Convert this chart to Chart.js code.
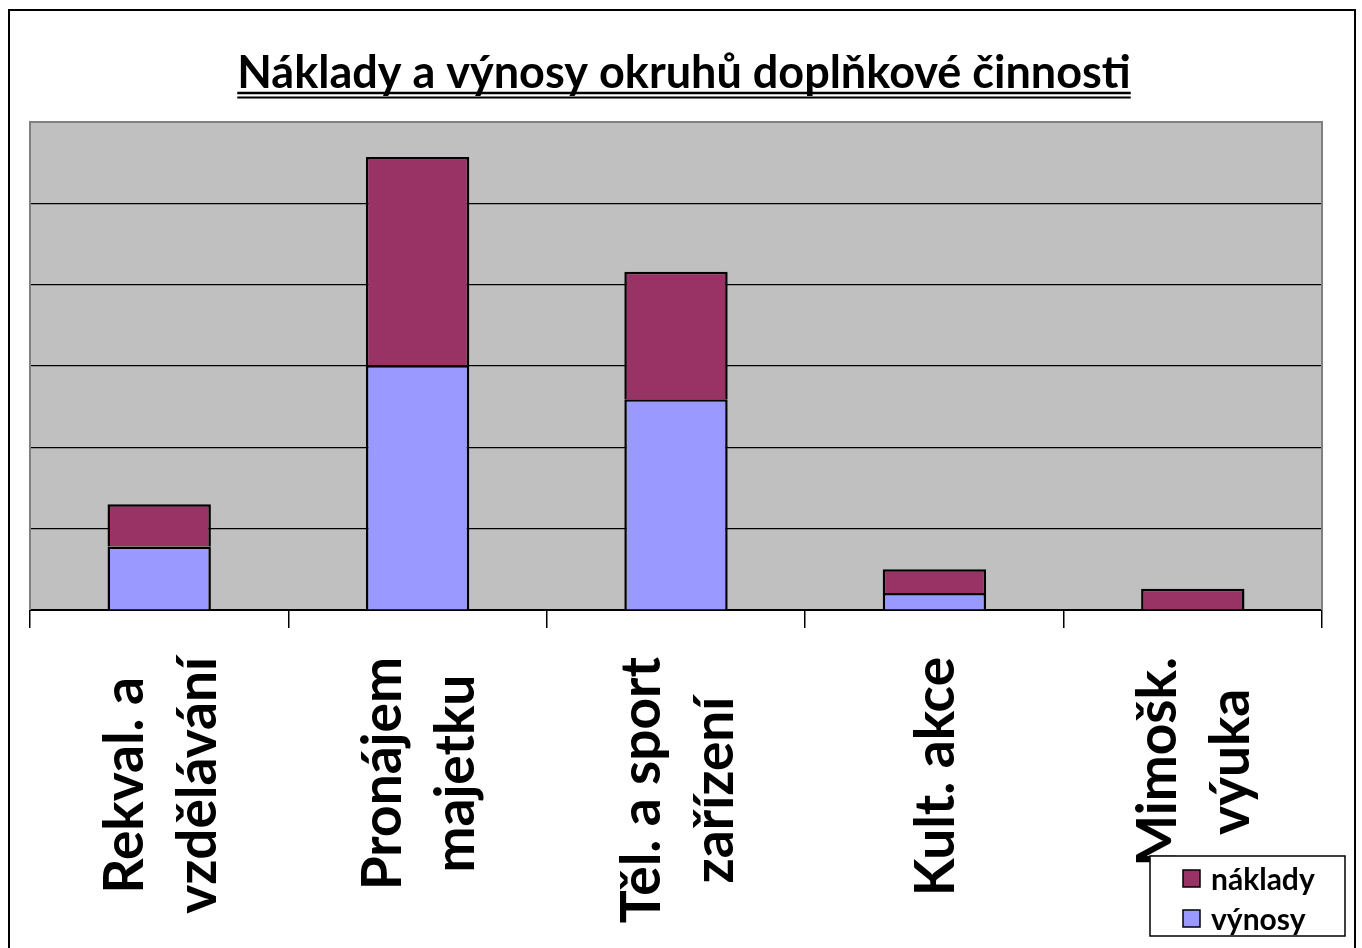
<!DOCTYPE html>
<html lang="cs">
<head>
<meta charset="UTF-8">
<title>Náklady a výnosy okruhů doplňkové činnosti</title>
<style>
body { margin:0; padding:0; background:#fff; }
#wrap { width:1362px; height:948px; position:relative; }
</style>
</head>
<body>
<div id="wrap"><canvas id="chart" width="1362" height="948"></canvas></div>
<script src="https://cdn.jsdelivr.net/npm/chart.js@4"></script>
<script>
const categories = [
  ['Rekval. a', 'vzdělávání'],
  ['Pronájem', 'majetku'],
  ['Těl. a sport', 'zařízení'],
  ['Kult. akce'],
  ['Mimošk.', 'výuka']
];
const vynosy  = [0.78, 3.01, 2.59, 0.21, 0];
const naklady = [0.52, 2.56, 1.57, 0.29, 0.26];
const yTicks = [0, 1, 2, 3, 4, 5, 6];

const titleText = 'Náklady a výnosy okruhů doplňkové činnosti';
const legendItems = [
  { label: 'náklady', color: '#993366' },
  { label: 'výnosy', color: '#9999FF' }
];

// gray plot background, title, rotated category labels, legend, outer frame
const decor = {
  id: 'decor',
  beforeDraw(chart) {
    const { ctx, chartArea: a } = chart;
    ctx.save();
    ctx.fillStyle = '#C0C0C0';
    ctx.fillRect(a.left, a.top, a.right - a.left, a.bottom - a.top);
    ctx.restore();
  },
  afterDraw(chart) {
    const { ctx, chartArea: a } = chart;
    const x = chart.scales.x;
    ctx.save();

    // plot border
    ctx.strokeStyle = '#808080';
    ctx.lineWidth = 2;
    ctx.beginPath();
    ctx.moveTo(a.left, a.bottom); ctx.lineTo(a.left, a.top);
    ctx.lineTo(a.right, a.top); ctx.lineTo(a.right, a.bottom);
    ctx.stroke();

    // title with double underline
    ctx.fillStyle = '#000';
    ctx.font = 'bold 45px Lato';
    ctx.textAlign = 'center';
    ctx.textBaseline = 'alphabetic';
    const tw = ctx.measureText(titleText).width;
    ctx.fillText(titleText, 684, 88);
    ctx.strokeStyle = '#000';
    ctx.lineWidth = 2.5;
    ctx.beginPath(); ctx.moveTo(684 - tw / 2, 93); ctx.lineTo(684 + tw / 2, 93); ctx.stroke();
    ctx.lineWidth = 2;
    ctx.beginPath(); ctx.moveTo(684 - tw / 2, 97.5); ctx.lineTo(684 + tw / 2, 97.5); ctx.stroke();

    // category labels, rotated, lines centred on each other
    const fs = 55, pitch = 73, top = 657;
    ctx.font = 'bold ' + fs + 'px Lato';
    categories.forEach((lines, i) => {
      const cx = x.getPixelForValue(i);
      const maxW = Math.max(...lines.map(l => ctx.measureText(l).width));
      const cy = top + maxW / 2;
      lines.forEach((l, j) => {
        const bx = cx + (j - (lines.length - 1) / 2) * pitch + 20;
        ctx.save();
        ctx.translate(bx, cy);
        ctx.rotate(-Math.PI / 2);
        ctx.textAlign = 'center';
        ctx.fillText(l, 0, 0);
        ctx.restore();
      });
    });

    // legend
    ctx.fillStyle = '#fff';
    ctx.fillRect(1150, 856, 195, 80);
    ctx.strokeStyle = '#000';
    ctx.lineWidth = 1.5;
    ctx.strokeRect(1150, 856, 195, 80);
    ctx.font = 'bold 30px Lato';
    ctx.textAlign = 'left';
    ctx.textBaseline = 'middle';
    legendItems.forEach((it, i) => {
      const y = 879 + i * 40;
      ctx.fillStyle = it.color;
      ctx.fillRect(1183, y - 9, 17, 17);
      ctx.strokeRect(1183, y - 9, 17, 17);
      ctx.fillStyle = '#000';
      ctx.fillText(it.label, 1211, y + 1);
    });

    // outer frame
    ctx.lineWidth = 2;
    ctx.strokeStyle = '#000';
    ctx.beginPath();
    ctx.moveTo(9, 960); ctx.lineTo(9, 10); ctx.lineTo(1355, 10); ctx.lineTo(1355, 960);
    ctx.stroke();
    ctx.restore();
  }
};

new Chart(document.getElementById('chart'), {
  type: 'bar',
  data: {
    labels: categories,
    datasets: [
      { label: 'výnosy', data: vynosy, backgroundColor: '#9999FF', borderColor: '#000', borderWidth: 2.5 },
      { label: 'náklady', data: naklady, backgroundColor: '#993366', borderColor: '#000', borderWidth: 2.5 }
    ]
  },
  options: {
    responsive: false,
    animation: false,
    layout: { padding: { left: 30, right: 40, top: 122, bottom: 0 } },
    plugins: { legend: { display: false }, title: { display: false }, tooltip: { enabled: false } },
    datasets: { bar: { categoryPercentage: 1, barPercentage: 0.4 } },
    scales: {
      x: {
        stacked: true,
        afterFit: s => { s.height = 338; },
        ticks: { display: false },
        grid: { offset: true, drawOnChartArea: false, drawTicks: true, tickLength: 18, color: '#000', lineWidth: 1.5 },
        border: { color: '#000', width: 2 }
      },
      y: {
        stacked: true,
        min: yTicks[0],
        max: yTicks[yTicks.length - 1],
        afterFit: s => { s.width = 0; },
        afterBuildTicks: s => { s.ticks = yTicks.map(v => ({ value: v })); },
        ticks: { display: false },
        grid: { drawTicks: false, color: c => c.tick && c.tick.value === 6 ? '#808080' : '#000', lineWidth: 1.2 },
        border: { display: false }
      }
    }
  },
  plugins: [decor]
});
</script>
</body>
</html>
